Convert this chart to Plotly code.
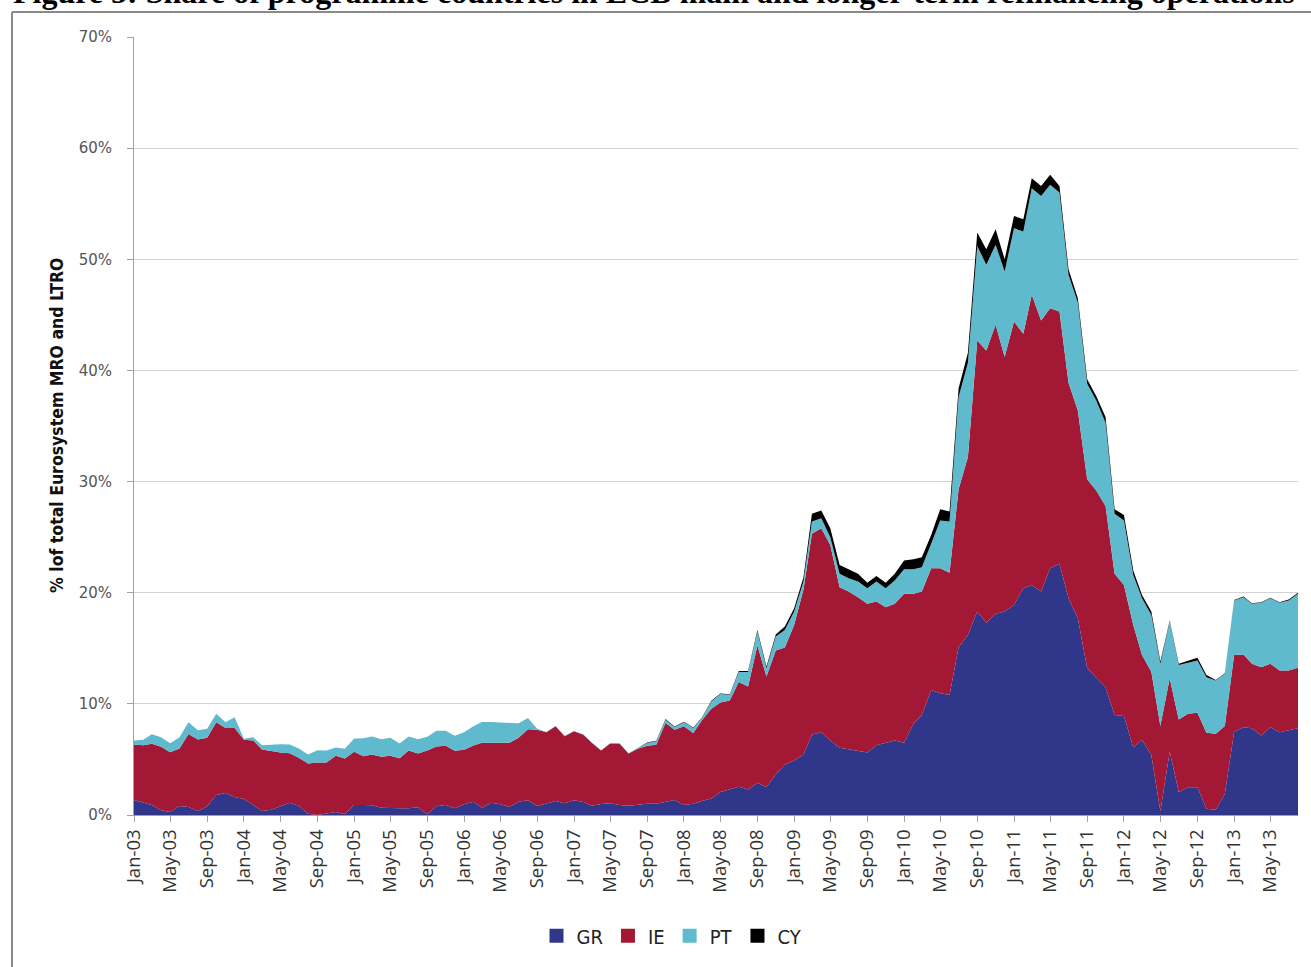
import pandas as pd
import plotly.graph_objects as go

# monthly observations, Jan-03 .. Aug-13 (share of total Eurosystem MRO + LTRO, %)
months = pd.date_range("2003-01-01", "2013-08-01", freq="MS")

gr = [1.35, 1.11, 0.90, 0.42, 0.27, 0.81, 0.72, 0.36, 0.78, 1.79, 1.97, 1.61,
      1.43, 0.90, 0.36, 0.48, 0.78, 1.11, 0.84, 0.12, 0.00, 0.15, 0.27, 0.06,
      0.90, 0.90, 0.87, 0.66, 0.60, 0.60, 0.60, 0.69, 0.06, 0.78, 0.90, 0.60,
      0.96, 1.20, 0.66, 1.11, 0.96, 0.72, 1.20, 1.32, 0.81, 1.02, 1.26, 1.05,
      1.32, 1.17, 0.84, 0.99, 1.05, 0.90, 0.84, 0.93, 1.02, 1.02, 1.17, 1.35,
      0.90, 1.02, 1.26, 1.49, 2.06, 2.33, 2.54, 2.30, 2.90, 2.51, 3.65, 4.54,
      4.90, 5.44, 7.23, 7.47, 6.70, 6.04, 5.89, 5.80, 5.62, 6.28, 6.46, 6.70,
      6.50, 8.20, 9.00, 11.25, 10.95, 10.80, 15.10, 16.20, 18.30, 17.30, 18.10, 18.30,
      18.90, 20.40, 20.70, 20.10, 22.20, 22.60, 19.50, 17.70, 13.20, 12.40, 11.50, 9.00,
      8.90, 6.07, 6.76, 5.40, 0.33, 5.70, 2.06, 2.50, 2.50, 0.57, 0.48, 1.88,
      7.50, 7.90, 7.80, 7.15, 7.90, 7.45, 7.60, 7.80]

ie = [4.99, 5.17, 5.50, 5.71, 5.38, 5.17, 6.57, 6.43, 6.16, 6.55, 5.86, 6.22,
      5.33, 5.80, 5.53, 5.26, 4.84, 4.45, 4.30, 4.51, 4.72, 4.57, 5.05, 5.02,
      4.78, 4.39, 4.57, 4.57, 4.72, 4.51, 5.20, 4.84, 5.74, 5.38, 5.32, 5.17,
      4.90, 5.05, 5.83, 5.38, 5.53, 5.77, 5.74, 6.39, 6.87, 6.42, 6.72, 6.04,
      6.21, 6.06, 5.65, 4.81, 5.38, 5.53, 4.69, 5.02, 5.20, 5.29, 7.11, 6.33,
      7.08, 6.36, 7.26, 8.08, 8.07, 7.98, 9.42, 9.27, 12.35, 9.96, 11.15, 10.53,
      12.20, 14.86, 18.07, 18.33, 17.60, 14.46, 14.21, 13.80, 13.38, 12.92, 12.24, 12.30,
      13.40, 11.70, 11.10, 10.95, 11.25, 11.00, 14.20, 16.00, 24.40, 24.50, 26.00, 22.90,
      25.50, 22.90, 26.10, 24.40, 23.40, 22.70, 19.40, 18.70, 17.00, 16.80, 16.30, 12.70,
      11.80, 11.03, 7.64, 7.50, 7.67, 6.60, 6.54, 6.60, 6.70, 6.83, 6.82, 6.12,
      6.90, 6.55, 5.80, 6.15, 5.70, 5.55, 5.40, 5.45]

pt = [0.36, 0.48, 0.86, 0.87, 0.81, 1.02, 1.05, 0.83, 0.83, 0.78, 0.51, 0.96,
      0.09, 0.30, 0.39, 0.60, 0.75, 0.78, 0.84, 0.81, 1.11, 1.08, 0.75, 0.87,
      1.20, 1.62, 1.62, 1.59, 1.62, 1.32, 1.26, 1.29, 1.23, 1.43, 1.37, 1.35,
      1.58, 1.73, 1.88, 1.88, 1.85, 1.76, 1.31, 1.02, 0.09, 0.03, 0.03, 0.03,
      0.03, 0.03, 0.03, 0.03, 0.03, 0.03, 0.03, 0.10, 0.25, 0.33, 0.30, 0.24,
      0.36, 0.45, 0.21, 0.65, 0.75, 0.51, 0.90, 1.29, 1.25, 0.74, 1.25, 1.58,
      1.20, 0.70, 1.10, 0.90, 0.70, 1.20, 1.20, 1.40, 1.40, 1.80, 1.70, 2.10,
      2.20, 2.20, 2.20, 2.20, 4.30, 4.60, 8.30, 8.50, 8.50, 7.70, 7.20, 7.70,
      8.40, 9.20, 9.60, 11.20, 11.10, 10.70, 9.70, 9.70, 8.60, 8.10, 7.50, 5.40,
      5.80, 4.50, 5.10, 5.10, 5.60, 5.10, 4.90, 4.60, 4.70, 5.00, 4.80, 4.70,
      4.90, 5.15, 5.40, 5.80, 5.90, 6.10, 6.30, 6.65]

cy = [0.00, 0.00, 0.00, 0.00, 0.00, 0.00, 0.00, 0.00, 0.00, 0.00, 0.00, 0.00,
      0.00, 0.00, 0.00, 0.00, 0.00, 0.00, 0.00, 0.00, 0.00, 0.00, 0.00, 0.00,
      0.00, 0.00, 0.00, 0.00, 0.00, 0.00, 0.00, 0.00, 0.00, 0.00, 0.00, 0.00,
      0.00, 0.00, 0.00, 0.00, 0.00, 0.00, 0.00, 0.00, 0.00, 0.00, 0.00, 0.00,
      0.00, 0.00, 0.00, 0.00, 0.00, 0.00, 0.00, 0.00, 0.05, 0.05, 0.05, 0.05,
      0.05, 0.05, 0.05, 0.05, 0.05, 0.05, 0.10, 0.10, 0.15, 0.15, 0.20, 0.30,
      0.30, 0.40, 0.70, 0.70, 0.80, 0.80, 0.80, 0.70, 0.50, 0.50, 0.50, 0.60,
      0.80, 0.90, 0.90, 0.80, 1.00, 0.90, 0.80, 0.90, 1.20, 1.40, 1.40, 1.10,
      1.10, 1.10, 0.90, 0.90, 0.90, 0.60, 0.50, 0.40, 0.40, 0.40, 0.50, 0.40,
      0.50, 0.40, 0.30, 0.30, 0.20, 0.10, 0.10, 0.15, 0.25, 0.20, 0.05, 0.05,
      0.05, 0.05, 0.05, 0.05, 0.05, 0.05, 0.10, 0.10]

series = [("GR", gr, "#30368a"), ("IE", ie, "#a21835"),
          ("PT", pt, "#5fbacd"), ("CY", cy, "#000000")]

TITLE = "Figure 5: Share of programme countries in ECB main and longer-term refinancing operations"
YTITLE = "% lof total Eurosystem MRO and LTRO"

W, H = 1311, 967
L, R, T, B = 134, 13, 37, 150


def px_x(x):
    return (x - L) / (W - L - R)


def px_y(y):
    return (H - B - y) / (H - T - B)


fig = go.Figure()

for name, vals, color in series:
    fig.add_trace(go.Scatter(
        x=months, y=vals, name=name,
        stackgroup="one", mode="lines",
        line=dict(width=0, color=color),
        fillcolor=color, showlegend=False,
        hovertemplate="%{x|%b-%y}: %{y:.1f}%<extra>" + name + "</extra>"
    ))
    # legend swatch
    fig.add_trace(go.Scatter(
        x=[None], y=[None], name=name, mode="markers",
        marker=dict(symbol="square", size=14, color=color)
    ))

fig.update_xaxes(
    range=[months[0], months[-1]],
    tick0="2003-01-01", dtick="M4", tickformat="%b-%y",
    tickangle=-90, ticks="outside", ticklen=6, tickcolor="#a0a0a0",
    showline=True, linecolor="#a0a0a0", linewidth=1,
    showgrid=False, zeroline=False,
    tickfont=dict(family="Open Sans", size=18.5, color="#333333")
)
fig.update_yaxes(
    range=[0, 70], dtick=10, ticksuffix="%",
    ticks="outside", ticklen=6, tickcolor="#a0a0a0",
    ticklabelstandoff=12,
    showline=True, linecolor="#a0a0a0", linewidth=1,
    showgrid=True, gridcolor="#d4d4d4", gridwidth=1, zeroline=False,
    tickfont=dict(family="DejaVu Sans", size=15, color="#555555")
)

fig.update_layout(
    width=W, height=H,
    margin=dict(l=L, r=R, t=T, b=B),
    paper_bgcolor="white", plot_bgcolor="white",
    legend=dict(
        orientation="h", traceorder="normal",
        x=px_x(672), xanchor="center",
        y=px_y(938), yanchor="middle",
        font=dict(family="DejaVu Sans Condensed", size=20, color="#222222"),
        itemwidth=30, tracegroupgap=0
    ),
    annotations=[
        dict(text="<b>" + TITLE + "</b>", xref="paper", yref="paper",
             x=px_x(654), y=1, xanchor="center", yanchor="bottom", yshift=25,
             showarrow=False,
             font=dict(family="Liberation Serif", size=32, color="black")),
        dict(text="<b>" + YTITLE + "</b>", xref="paper", yref="paper",
             x=px_x(57), y=px_y(427), xanchor="center", yanchor="middle",
             textangle=-90, showarrow=False,
             font=dict(family="DejaVu Sans Condensed", size=17.5, color="#111111")),
    ],
    shapes=[
        dict(type="line", xref="paper", yref="paper", x0=px_x(12), x1=px_x(12),
             y0=px_y(12), y1=px_y(990), line=dict(color="#8a8a8a", width=2)),
        dict(type="line", xref="paper", yref="paper", x0=px_x(12), x1=px_x(1330),
             y0=px_y(12), y1=px_y(12), line=dict(color="#8a8a8a", width=2)),
    ]
)

# the page's default body margin would push the figure 8px right/down
fig.write_html("out.html", config={"displayModeBar": False},
               post_script="document.body.style.margin='0px';")
